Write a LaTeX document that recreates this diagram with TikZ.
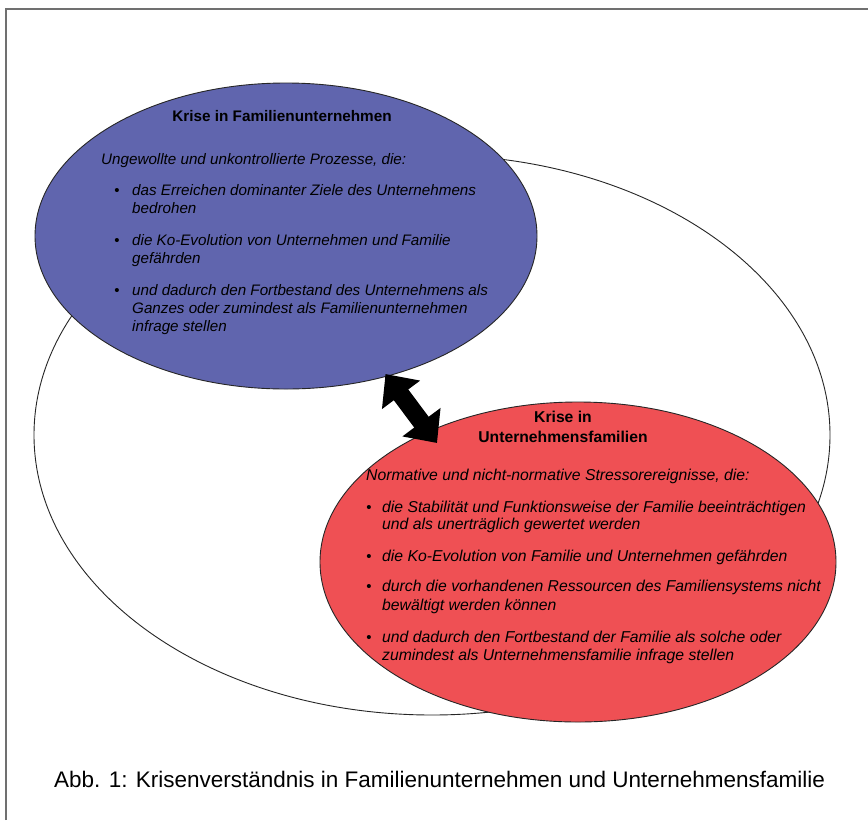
\documentclass[tikz,border=0pt]{standalone}
\usepackage{fontspec}
\setmainfont{Liberation Sans}
\usetikzlibrary{arrows.meta,shapes.geometric}
\definecolor{firmblue}{RGB}{96,101,174}
\definecolor{familyred}{RGB}{239,80,84}
\definecolor{framegray}{RGB}{112,112,112}
\tikzset{
  body/.style={anchor=base west, inner sep=0pt, font=\fontsize{15.2}{18}\selectfont\itshape},
  head/.style={anchor=base, inner sep=0pt, font=\fontsize{15.3}{18}\selectfont\bfseries},
  dot/.style={anchor=base, inner sep=0pt, font=\fontsize{15}{18}\selectfont},
  rbody/.style={body, font=\fontsize{15.75}{18}\selectfont\itshape},
  rhead/.style={head, font=\fontsize{15.7}{18}\selectfont\bfseries},
  oval/.style={ellipse, draw=black!85, line width=0.9pt, inner sep=0pt},
  bigarrow/.style={line width=18pt, {Triangle[length=26pt,width=46pt]}-{Triangle[length=26pt,width=46pt]}},
  caption/.style={anchor=base west, inner sep=0pt, font=\fontsize{22.5}{26}\selectfont},
}
\begin{document}
\begin{tikzpicture}[x=1pt,y=-1pt]
\useasboundingbox (0,0) rectangle (868,820);
\fill[white] (0,0) rectangle (868,820);
% open frame: left and top edges
\draw[framegray, line width=2pt] (6,820) -- (6,9) -- (868,9);

% ellipses
\node[oval, fill=white, minimum width=796pt, minimum height=560pt] (outer) at (432,435) {};
\node[oval, fill=firmblue, minimum width=502pt, minimum height=306pt] (firm) at (286,236) {};
\node[oval, fill=familyred, minimum width=516pt, minimum height=320pt] (family) at (578,562) {};

% double-headed block arrow between the two crises
\coordinate (pa) at (385.5,374);
\coordinate (pb) at (437,443);
\draw[bigarrow] (pa) -- (pb);

% text of the upper ellipse
\node[head] (t1) at (282,121) {Krise in Familienunternehmen};
\node[body] (i1) at (101,164.5) {Ungewollte und unkontrollierte Prozesse, die:};
\node[dot] (d11) at (117,195.5) {•};
\node[body] (a11) at (132,195.5) {das Erreichen dominanter Ziele des Unternehmens};
\node[body] (a12) at (132,213.5) {bedrohen};
\node[dot] (d12) at (117,245) {•};
\node[body] (a21) at (132,245) {die Ko-Evolution von Unternehmen und Familie};
\node[body] (a22) at (132,263) {gefährden};
\node[dot] (d13) at (117,295) {•};
\node[body] (a31) at (132,295) {und dadurch den Fortbestand des Unternehmens als};
\node[body] (a32) at (132,313) {Ganzes oder zumindest als Familienunternehmen};
\node[body] (a33) at (132,331) {infrage stellen};

% text of the lower ellipse
\node[rhead] (t2a) at (563,422) {Krise in};
\node[rhead] (t2b) at (563,442) {Unternehmensfamilien};
\node[rbody] (i2) at (366,480.5) {Normative und nicht-normative Stressorereignisse, die:};
\node[dot] (d21) at (369,512) {•};
\node[rbody] (b11) at (382,512) {die Stabilität und Funktionsweise der Familie beeinträchtigen};
\node[rbody] (b12) at (382,529.5) {und als unerträglich gewertet werden};
\node[dot] (d22) at (369,561) {•};
\node[rbody] (b21) at (382,561) {die Ko-Evolution von Familie und Unternehmen gefährden};
\node[dot] (d23) at (369,591) {•};
\node[rbody] (b31) at (382,591) {durch die vorhandenen Ressourcen des Familiensystems nicht};
\node[rbody] (b32) at (382,610) {bewältigt werden können};
\node[dot] (d24) at (369,642) {•};
\node[rbody] (b41) at (382,642) {und dadurch den Fortbestand der Familie als solche oder};
\node[rbody] (b42) at (382,660) {zumindest als Unternehmensfamilie infrage stellen};

% caption
\node[caption] (cap) at (54,787) {Abb. 1: Krisenverständnis in Familienunternehmen und Unternehmensfamilie};
\end{tikzpicture}
\end{document}
